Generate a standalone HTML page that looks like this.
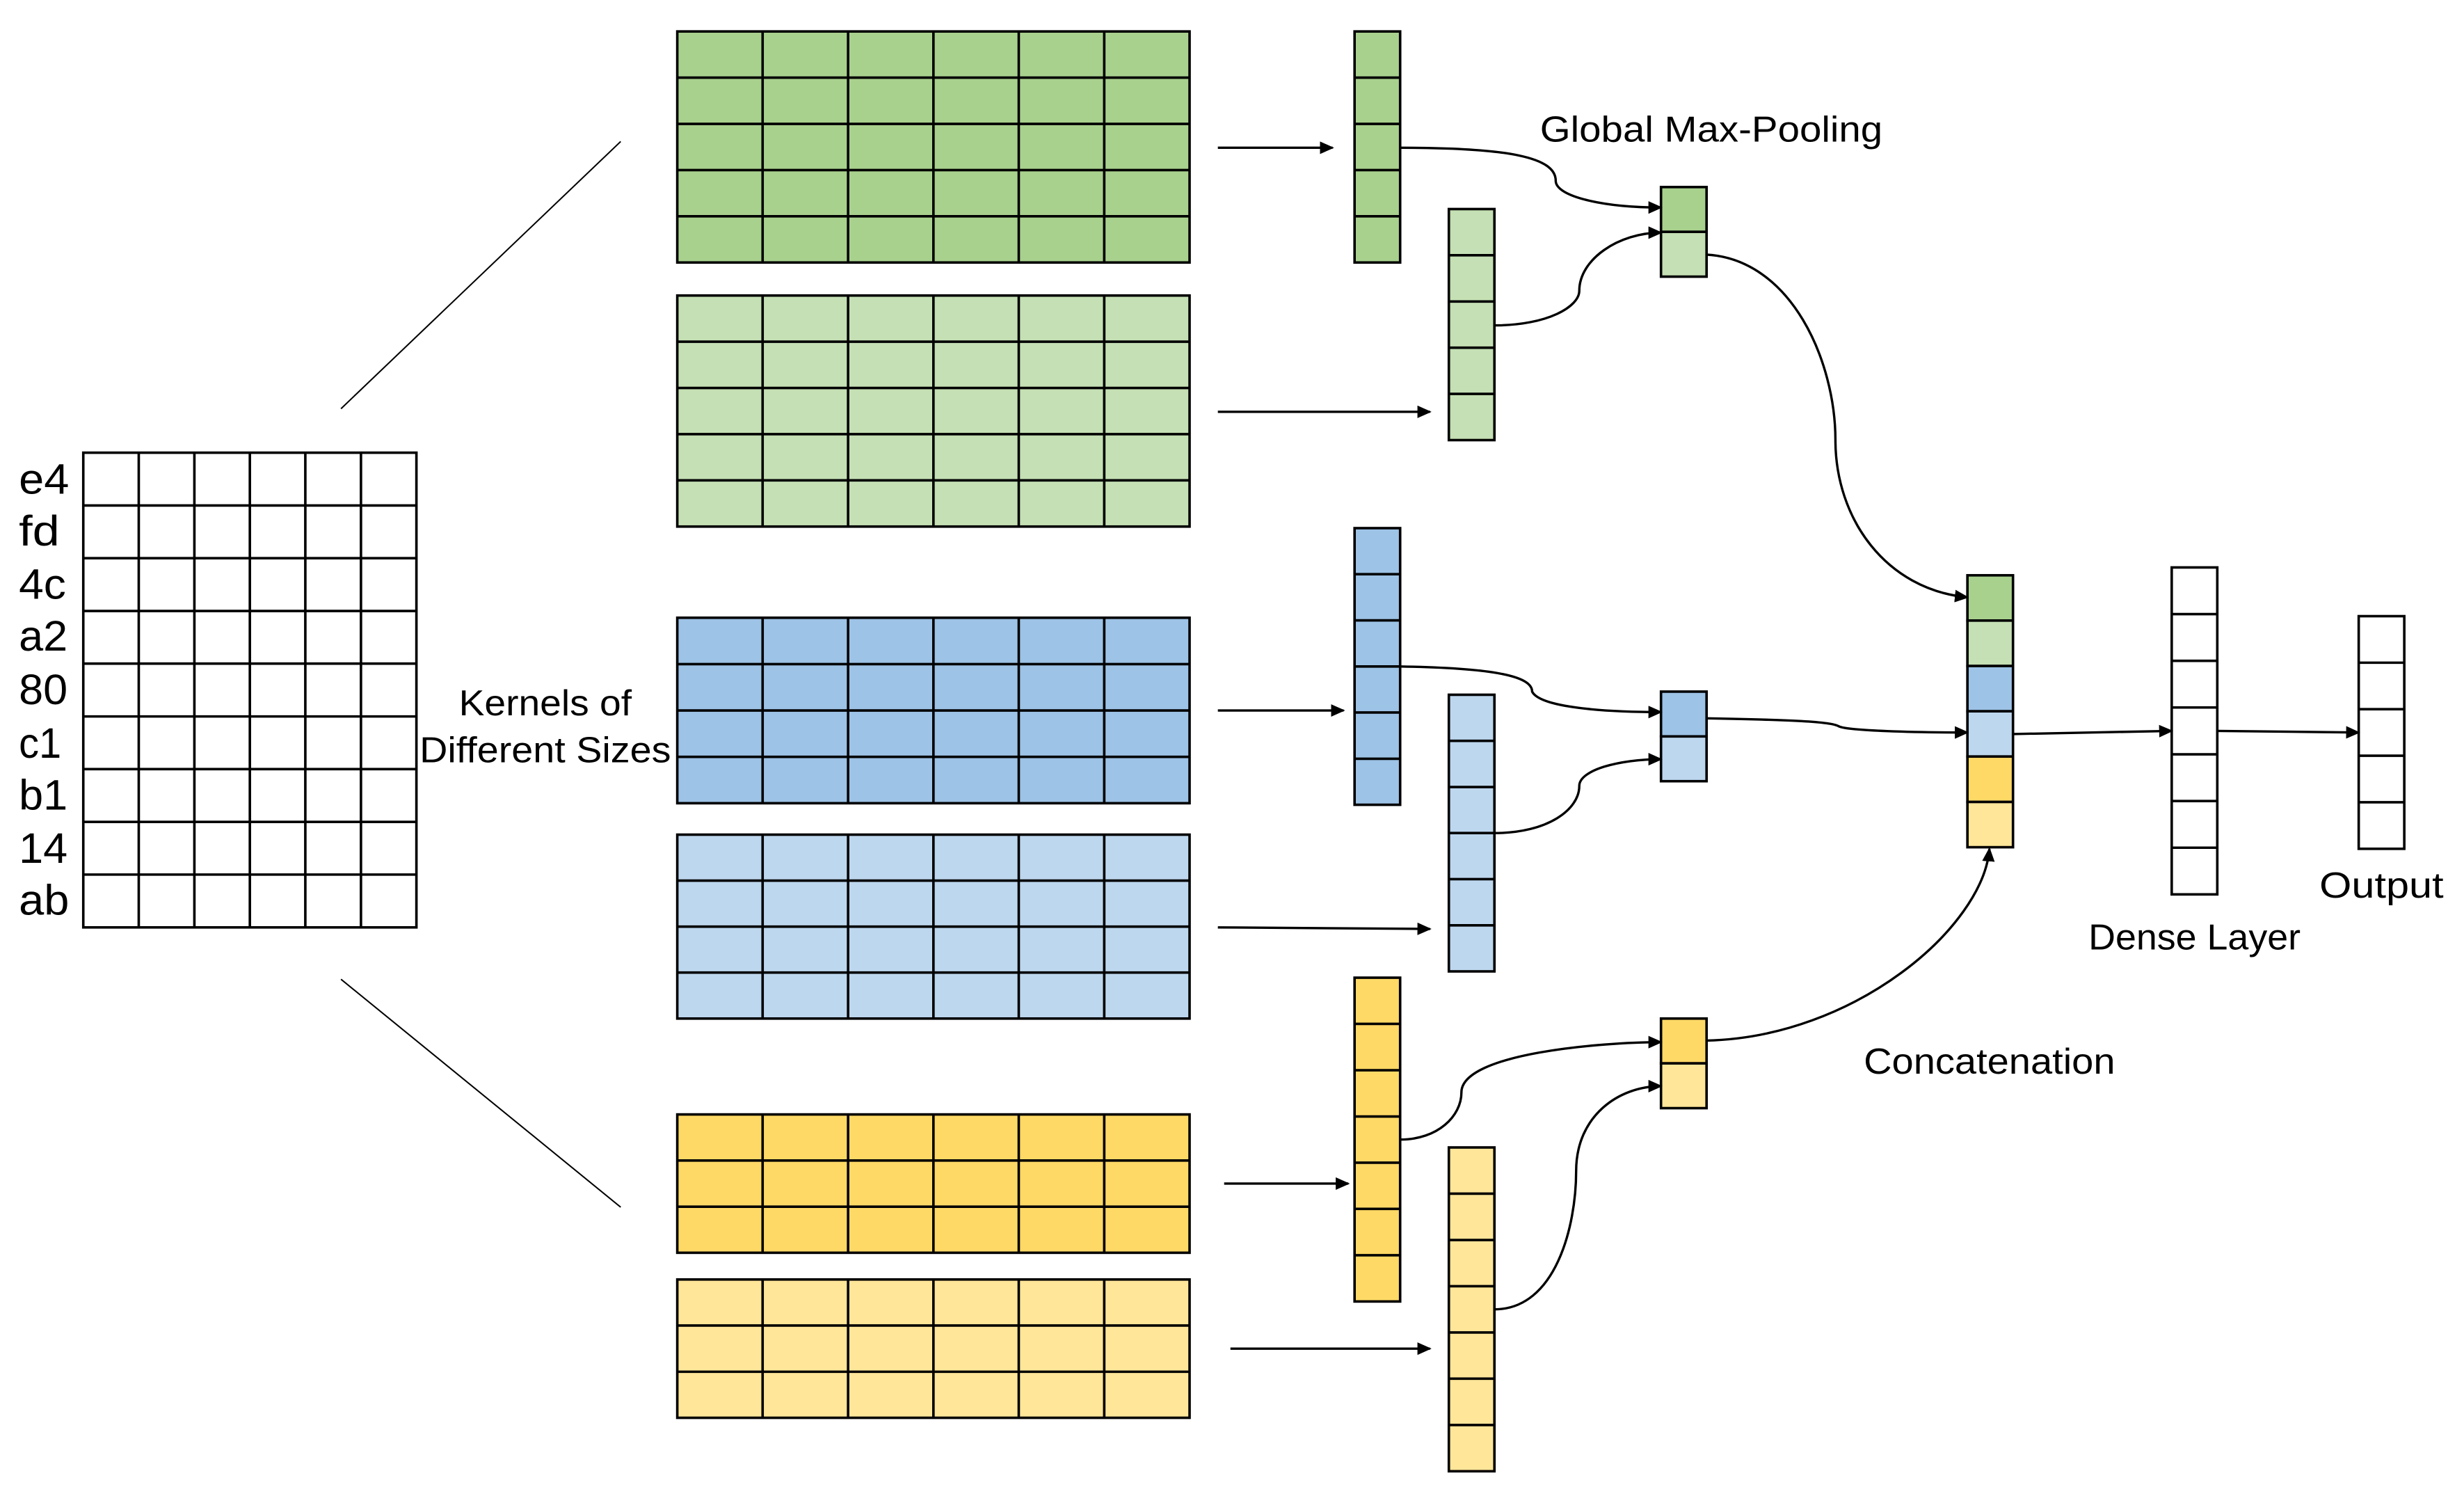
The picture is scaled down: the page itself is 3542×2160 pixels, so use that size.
<!DOCTYPE html>
<html><head><meta charset="utf-8"><style>
html,body{margin:0;padding:0;background:#fff;}
svg{display:block;}
text{font-family:"Liberation Sans",sans-serif;fill:#000;}
</style></head><body>
<svg width="3542" height="2160" viewBox="0 0 1568 956.2" xmlns="http://www.w3.org/2000/svg">
<defs>
<marker id="a" markerWidth="10" markerHeight="10" refX="8" refY="4" orient="auto" markerUnits="userSpaceOnUse">
<path d="M0,0 L9,4 L0,8 z" fill="#000"/></marker>
</defs>
<g stroke="#000" stroke-width="1.6" fill="none">
<rect x="53" y="288" width="212" height="302" fill="#fff"/>
<path d="M88.3,288V590M123.7,288V590M159,288V590M194.3,288V590M229.7,288V590M53,321.6H265M53,355.1H265M53,388.7H265M53,422.2H265M53,455.8H265M53,489.3H265M53,522.9H265M53,556.4H265"/>
<rect x="431" y="20" width="326" height="147" fill="#a9d18e"/>
<path d="M485.3,20V167M539.7,20V167M594,20V167M648.3,20V167M702.7,20V167M431,49.4H757M431,78.8H757M431,108.2H757M431,137.6H757"/>
<rect x="431" y="188" width="326" height="147" fill="#c5e0b4"/>
<path d="M485.3,188V335M539.7,188V335M594,188V335M648.3,188V335M702.7,188V335M431,217.4H757M431,246.8H757M431,276.2H757M431,305.6H757"/>
<rect x="431" y="393" width="326" height="118" fill="#9dc3e6"/>
<path d="M485.3,393V511M539.7,393V511M594,393V511M648.3,393V511M702.7,393V511M431,422.5H757M431,452H757M431,481.5H757"/>
<rect x="431" y="531" width="326" height="117" fill="#bdd7ee"/>
<path d="M485.3,531V648M539.7,531V648M594,531V648M648.3,531V648M702.7,531V648M431,560.25H757M431,589.5H757M431,618.75H757"/>
<rect x="431" y="709" width="326" height="88" fill="#ffd966"/>
<path d="M485.3,709V797M539.7,709V797M594,709V797M648.3,709V797M702.7,709V797M431,738.3H757M431,767.7H757"/>
<rect x="431" y="814" width="326" height="88" fill="#ffe699"/>
<path d="M485.3,814V902M539.7,814V902M594,814V902M648.3,814V902M702.7,814V902M431,843.3H757M431,872.7H757"/>
<rect x="862" y="20" width="29" height="147" fill="#a9d18e"/>
<path d="M862,49.4H891M862,78.8H891M862,108.2H891M862,137.6H891"/>
<rect x="922" y="133" width="29" height="147" fill="#c5e0b4"/>
<path d="M922,162.4H951M922,191.8H951M922,221.2H951M922,250.6H951"/>
<rect x="862" y="336" width="29" height="176" fill="#9dc3e6"/>
<path d="M862,365.3H891M862,394.7H891M862,424H891M862,453.3H891M862,482.7H891"/>
<rect x="922" y="442" width="29" height="176" fill="#bdd7ee"/>
<path d="M922,471.3H951M922,500.7H951M922,530H951M922,559.3H951M922,588.7H951"/>
<rect x="862" y="622" width="29" height="206" fill="#ffd966"/>
<path d="M862,651.4H891M862,680.9H891M862,710.3H891M862,739.7H891M862,769.1H891M862,798.6H891"/>
<rect x="922" y="730" width="29" height="206" fill="#ffe699"/>
<path d="M922,759.4H951M922,788.9H951M922,818.3H951M922,847.7H951M922,877.1H951M922,906.6H951"/>
<rect x="1057" y="119" width="29" height="28.5" fill="#a9d18e"/><rect x="1057" y="147.5" width="29" height="28.5" fill="#c5e0b4"/>
<rect x="1057" y="440" width="29" height="28.5" fill="#9dc3e6"/><rect x="1057" y="468.5" width="29" height="28.5" fill="#bdd7ee"/>
<rect x="1057" y="648" width="29" height="28.5" fill="#ffd966"/><rect x="1057" y="676.5" width="29" height="28.5" fill="#ffe699"/>
<rect x="1252" y="366" width="29" height="28.8" fill="#a9d18e"/>
<rect x="1252" y="394.8" width="29" height="28.9" fill="#c5e0b4"/>
<rect x="1252" y="423.7" width="29" height="28.8" fill="#9dc3e6"/>
<rect x="1252" y="452.5" width="29" height="28.8" fill="#bdd7ee"/>
<rect x="1252" y="481.3" width="29" height="28.9" fill="#ffd966"/>
<rect x="1252" y="510.2" width="29" height="28.8" fill="#ffe699"/>
<rect x="1382" y="361" width="29" height="208" fill="#fff"/>
<path d="M1382,390.7H1411M1382,420.4H1411M1382,450.1H1411M1382,479.9H1411M1382,509.6H1411M1382,539.3H1411"/>
<rect x="1501" y="392" width="29" height="148" fill="#fff"/>
<path d="M1501,421.6H1530M1501,451.2H1530M1501,480.8H1530M1501,510.4H1530"/>
</g>
<g stroke="#000" stroke-width="0.9"><path d="M217,260L395,90M217,623L395,768"/></g>
<g stroke="#000" stroke-width="1.5" fill="none" marker-end="url(#a)">
<path d="M775,94H848"/><path d="M775,262H910"/><path d="M775,452H855"/><path d="M775,590L910,591"/><path d="M779,753H858"/><path d="M783,858H910"/>
<path d="M891,94C960,94 990,100 990,115C990,125 1020,132 1057,132"/>
<path d="M951,207C985,207 1005,195 1005,185C1005,165 1030,148 1057,148"/>
<path d="M1086,162C1140,165 1168,230 1168,280C1168,330 1200,375 1252,380"/>
<path d="M891,424C950,425 975,430 975,440C980,450 1020,453 1057,453"/>
<path d="M951,530C985,530 1005,515 1005,500C1005,490 1030,483 1057,483"/>
<path d="M1086,457C1140,458 1165,459 1170,462C1175,465 1220,466 1252,466"/>
<path d="M891,725C915,725 930,710 930,695C930,670 1020,663 1057,663"/>
<path d="M951,833C990,833 1003,780 1003,745C1003,710 1030,691 1057,691"/>
<path d="M1086,662C1180,660 1262,590 1266,540"/>
<path d="M1281,467L1382,465"/><path d="M1411,465L1501,466"/>
</g>
<g font-size="27">
<text x="12" y="314" textLength="32" lengthAdjust="spacingAndGlyphs">e4</text><text x="12" y="347" textLength="26" lengthAdjust="spacingAndGlyphs">fd</text><text x="12" y="381" textLength="30" lengthAdjust="spacingAndGlyphs">4c</text>
<text x="12" y="414" textLength="31" lengthAdjust="spacingAndGlyphs">a2</text><text x="12" y="448" textLength="31" lengthAdjust="spacingAndGlyphs">80</text><text x="12" y="482" textLength="27" lengthAdjust="spacingAndGlyphs">c1</text>
<text x="12" y="515" textLength="31" lengthAdjust="spacingAndGlyphs">b1</text><text x="12" y="549" textLength="31" lengthAdjust="spacingAndGlyphs">14</text><text x="12" y="582" textLength="32" lengthAdjust="spacingAndGlyphs">ab</text>
</g>
<g font-size="23">
<text x="292" y="455" textLength="110" lengthAdjust="spacingAndGlyphs">Kernels of</text>
<text x="267" y="485" textLength="160" lengthAdjust="spacingAndGlyphs">Different Sizes</text>
<text x="980" y="90" textLength="218" lengthAdjust="spacingAndGlyphs">Global Max-Pooling</text>
<text x="1186" y="683" textLength="160" lengthAdjust="spacingAndGlyphs">Concatenation</text>
<text x="1329" y="604" textLength="135" lengthAdjust="spacingAndGlyphs">Dense Layer</text>
<text x="1476" y="571" textLength="79" lengthAdjust="spacingAndGlyphs">Output</text>
</g>
</svg>
</body></html>
